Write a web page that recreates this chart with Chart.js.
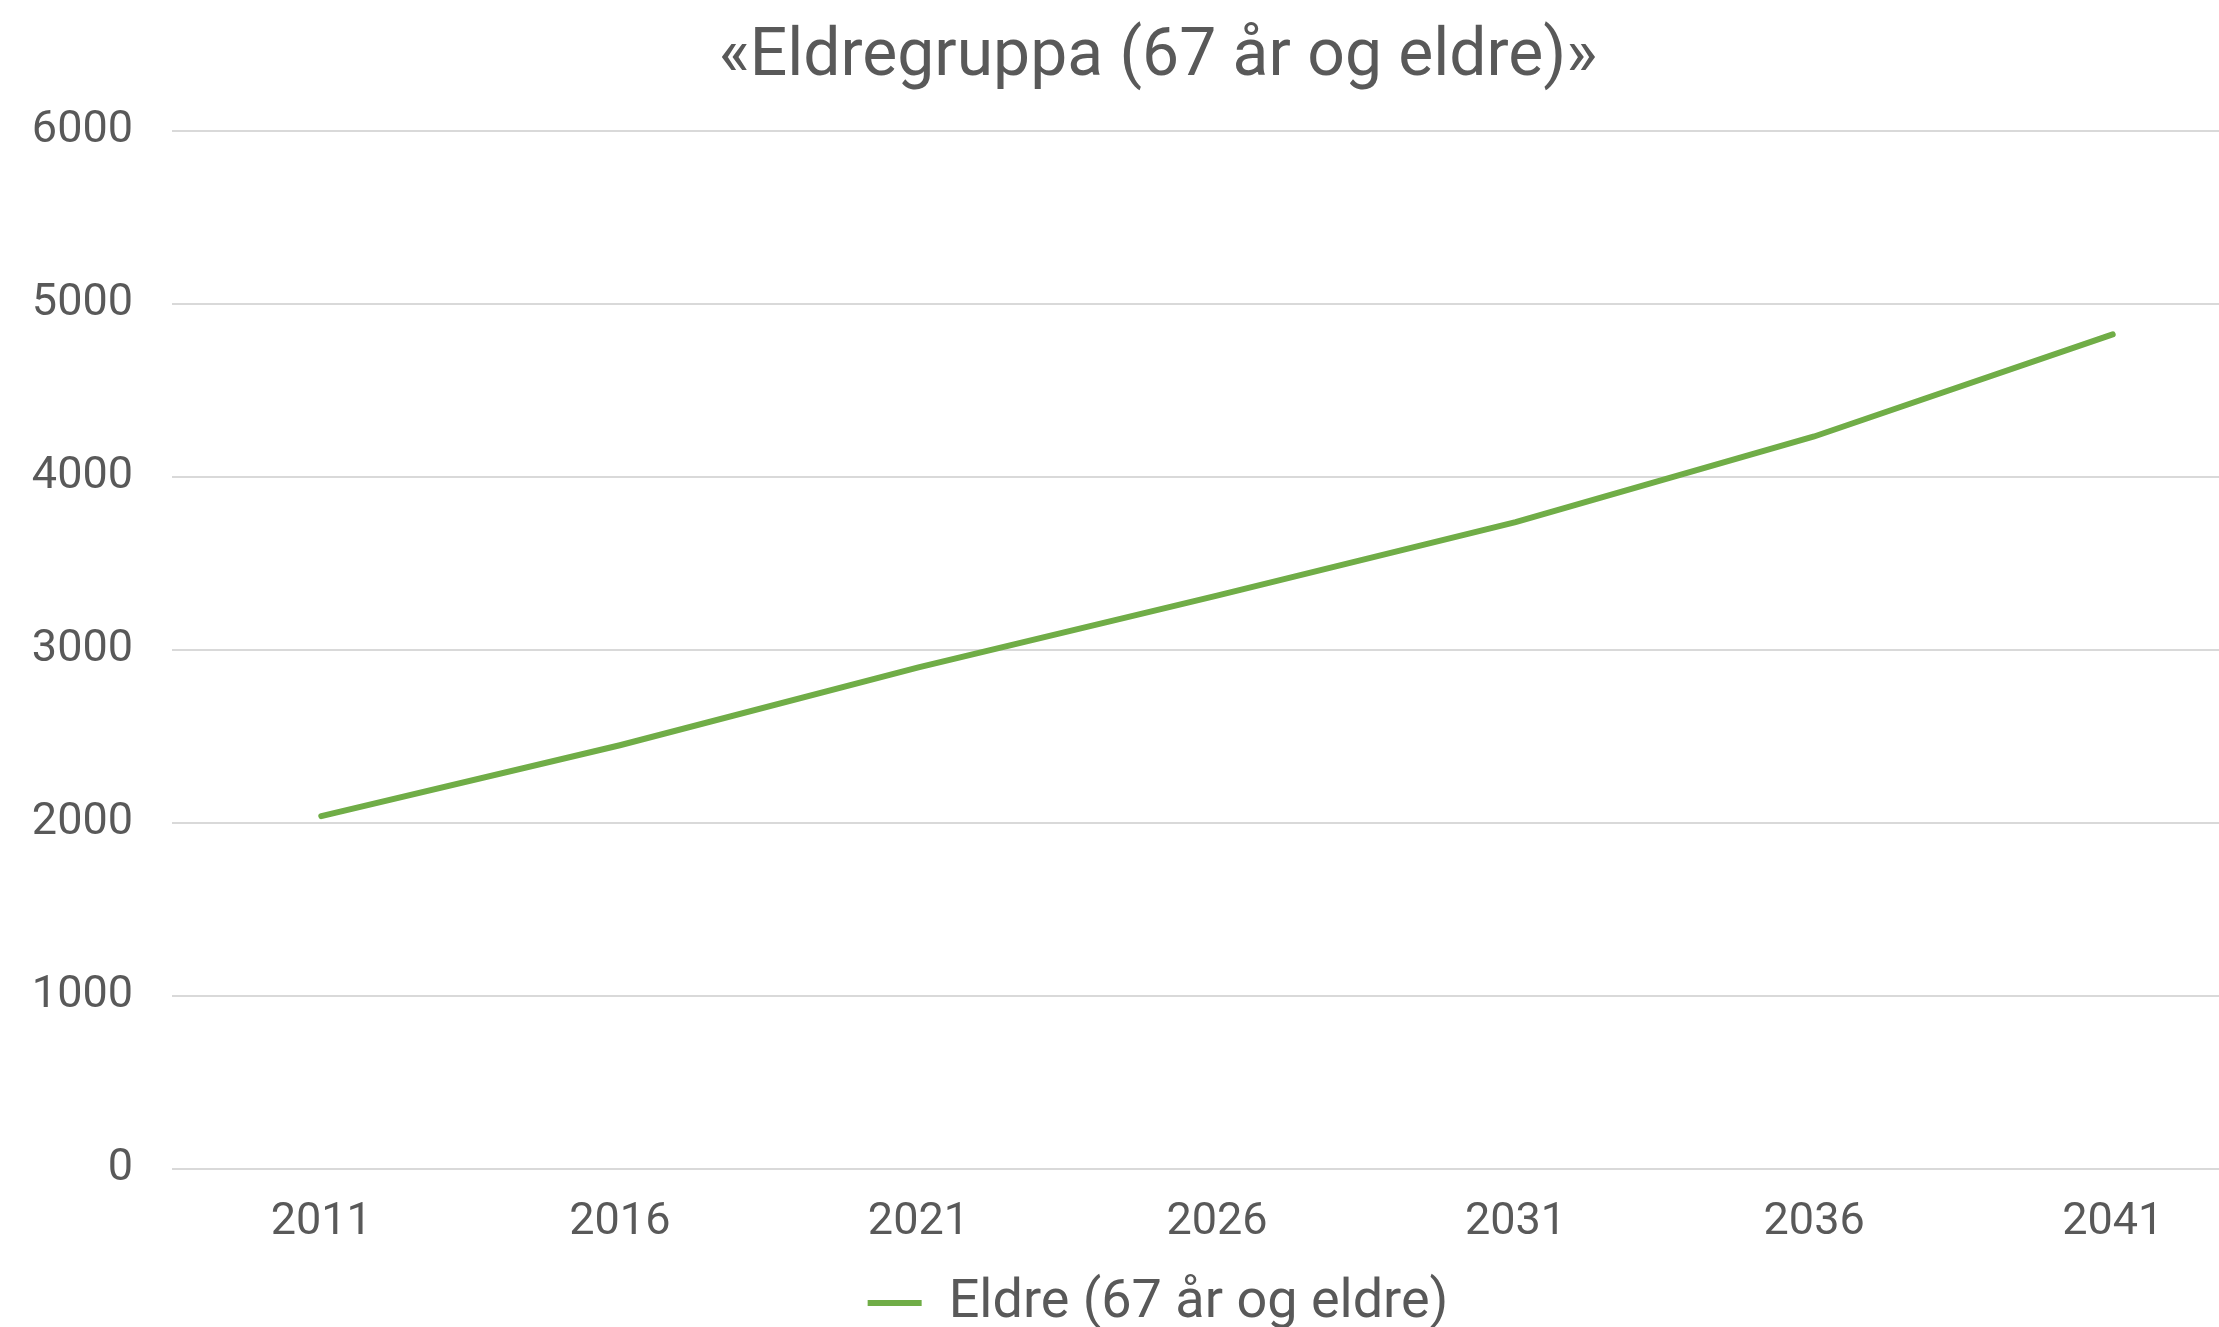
<!DOCTYPE html>
<html>
<head>
<meta charset="utf-8">
<script src="https://cdn.jsdelivr.net/npm/chart.js@4"></script>
<style>
  body { margin: 0; overflow: hidden; background: #fff; }
  #wrap { position: absolute; left: 0; top: 0; width: 2262px; height: 1340px; }
</style>
</head>
<body>
<div id="wrap"><canvas id="chart-1"></canvas></div>
<script>
const years = ["2011", "2016", "2021", "2026", "2031", "2036", "2041"];
const eldre = [2040, 2450, 2900, 3315, 3740, 4235, 4825];
const yMin = 0, yMax = 6000, yStep = 1000;

const textColor = "#595959";
Chart.defaults.font.family = "Roboto";
Chart.defaults.color = textColor;

// title and legend sit a bit right of the canvas middle in the original
const centerShift = {
  id: "centerShift",
  afterLayout(chart) {
    [chart.titleBlock, chart.legend].forEach(function (b) {
      if (b) { b.left += 27; b.right += 27; }
    });
  }
};

new Chart("chart-1", {
  type: "line",
  data: {
    labels: years,
    datasets: [{
      label: "Eldre (67 år og eldre)",
      data: eldre,
      borderColor: "#70AD47",
      backgroundColor: "#70AD47",
      borderWidth: 6,
      borderCapStyle: "round",
      pointRadius: 0,
      tension: 0,
      fill: false
    }]
  },
  options: {
    responsive: true,
    maintainAspectRatio: false,
    animation: false,
    layout: { padding: 0 },
    scales: {
      x: {
        offset: true,
        grid: { display: false, drawTicks: false },
        border: { display: false },
        ticks: { padding: 27, font: { size: 45 }, color: textColor, maxRotation: 0 },
        afterFit: function (scale) { scale.height = 97; }
      },
      y: {
        min: yMin,
        max: yMax,
        grid: { color: "#D9D9D9", lineWidth: 2, drawTicks: false },
        border: { display: false },
        ticks: {
          stepSize: yStep,
          padding: 39,
          font: { size: 45 },
          color: textColor,
          callback: function (value) { return String(value); }
        },
        afterFit: function (scale) { scale.width = 172; }
      }
    },
    plugins: {
      title: {
        display: true,
        text: "«Eldregruppa (67 år og eldre)»",
        font: { size: 66, weight: "normal" },
        color: textColor,
        padding: { top: 19, bottom: 33 }
      },
      legend: {
        position: "bottom",
        labels: {
          font: { size: 54 },
          color: textColor,
          usePointStyle: true,
          pointStyle: "line",
          pointStyleWidth: 54,
          padding: 10
        }
      },
      tooltip: { enabled: false }
    }
  },
  plugins: [centerShift]
});
</script>
</body>
</html>
